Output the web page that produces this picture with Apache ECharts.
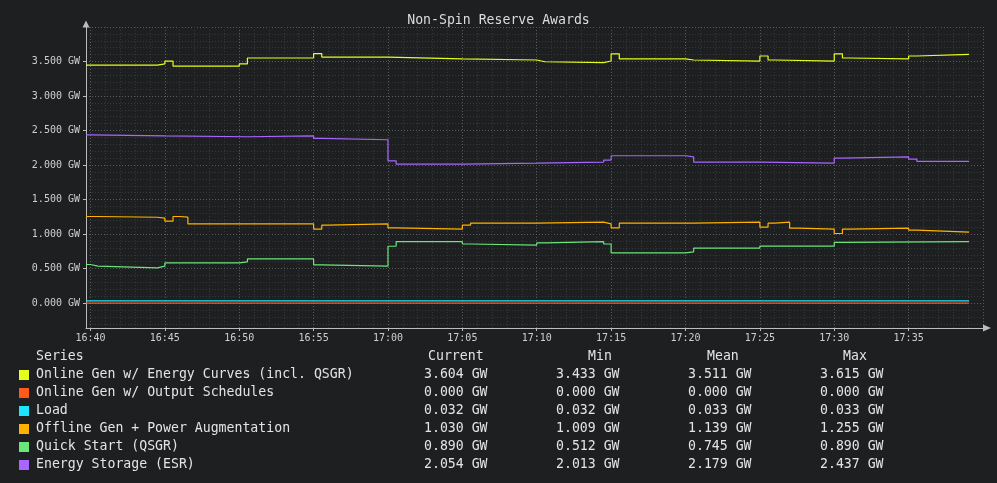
<!DOCTYPE html>
<html>
<head>
<meta charset="utf-8">
<title>Non-Spin Reserve Awards</title>
<script src="https://cdn.jsdelivr.net/npm/echarts@6/dist/echarts.min.js"></script>
<style>
  html, body { margin: 0; padding: 0; background: #1e1f21; }
  #main { width: 997px; height: 483px; }
</style>
</head>
<body>
<div id="main"></div>
<script>
// step change points: [time, GW]; value holds until the next point
var energyCurves = [
    ['16:39:42', 3.447], ['16:44:30', 3.465], ['16:45:00', 3.507], ['16:45:33', 3.433],
    ['16:50:00', 3.465], ['16:50:33', 3.551], ['16:55:00', 3.615], ['16:55:33', 3.565],
    ['17:00:00', 3.537], ['17:05:00', 3.522], ['17:10:00', 3.497], ['17:10:33', 3.483],
    ['17:14:30', 3.507], ['17:15:00', 3.612], ['17:15:33', 3.537], ['17:20:00', 3.522],
    ['17:20:33', 3.507], ['17:25:00', 3.580], ['17:25:33', 3.522], ['17:26:00', 3.507],
    ['17:30:00', 3.612], ['17:30:33', 3.551], ['17:31:00', 3.537], ['17:35:00', 3.580],
    ['17:35:33', 3.604], ['17:39:04', 3.604]
];
var outputSchedules = [
    ['16:39:42', 0.000], ['17:39:04', 0.000]
];
var loadRes = [
    ['16:39:42', 0.033], ['17:20:00', 0.032], ['17:39:04', 0.032]
];
var offlineGen = [
    ['16:39:42', 1.255], ['16:40:30', 1.244], ['16:44:30', 1.232], ['16:45:00', 1.188],
    ['16:45:33', 1.255], ['16:46:00', 1.246], ['16:46:33', 1.149], ['16:55:00', 1.072],
    ['16:55:33', 1.130], ['16:56:00', 1.149], ['17:00:00', 1.090], ['17:00:33', 1.072],
    ['17:05:00', 1.130], ['17:05:33', 1.159], ['17:10:00', 1.174], ['17:14:30', 1.149],
    ['17:15:00', 1.091], ['17:15:33', 1.159], ['17:20:33', 1.174], ['17:25:00', 1.101],
    ['17:25:33', 1.159], ['17:26:00', 1.174], ['17:27:00', 1.087], ['17:27:33', 1.072],
    ['17:30:00', 1.009], ['17:30:33', 1.072], ['17:31:00', 1.087], ['17:35:00', 1.058],
    ['17:35:33', 1.030], ['17:39:04', 1.030]
];
var quickStart = [
    ['16:39:42', 0.560], ['16:40:00', 0.536], ['16:40:30', 0.512], ['16:44:30', 0.536],
    ['16:45:00', 0.582], ['16:50:00', 0.597], ['16:50:33', 0.640], ['16:55:00', 0.553],
    ['16:55:33', 0.536], ['17:00:00', 0.824], ['17:00:33', 0.890], ['17:05:00', 0.857],
    ['17:05:33', 0.841], ['17:10:00', 0.872], ['17:10:33', 0.890], ['17:14:30', 0.857],
    ['17:15:00', 0.729], ['17:20:00', 0.743], ['17:20:33', 0.797], ['17:25:00', 0.826],
    ['17:30:00', 0.880], ['17:30:33', 0.890], ['17:39:04', 0.890]
];
var energyStorage = [
    ['16:39:42', 2.437], ['16:40:00', 2.423], ['16:45:00', 2.410], ['16:50:33', 2.423],
    ['16:55:00', 2.386], ['16:55:33', 2.367], ['17:00:00', 2.062], ['17:00:33', 2.013],
    ['17:05:00', 2.028], ['17:10:00', 2.043], ['17:14:30', 2.072], ['17:15:00', 2.135],
    ['17:20:00', 2.120], ['17:20:33', 2.043], ['17:25:00', 2.029], ['17:30:00', 2.101],
    ['17:30:33', 2.120], ['17:35:00', 2.087], ['17:35:33', 2.054], ['17:39:04', 2.054]
];

var seriesNames = [
    'Online Gen w/ Energy Curves (incl. QSGR)',
    'Online Gen w/ Output Schedules',
    'Load',
    'Offline Gen + Power Augmentation',
    'Quick Start (QSGR)',
    'Energy Storage (ESR)'
];
var seriesColors = ['#e6ff1a', '#ff5a1a', '#1ae6ff', '#ffb300', '#6ae67a', '#a866ff'];
var seriesData = [energyCurves, outputSchedules, loadRes, offlineGen, quickStart, energyStorage];

// legend table stats
var statHeaders = ['Current', 'Min', 'Mean', 'Max'];
var currentVals = [3.604, 0.000, 0.032, 1.030, 0.890, 2.054];
var minVals = [3.433, 0.000, 0.032, 1.009, 0.512, 2.013];
var meanVals = [3.511, 0.000, 0.033, 1.139, 0.745, 2.179];
var maxVals = [3.615, 0.000, 0.033, 1.255, 0.890, 2.437];

var xStart = '16:39:42';
var xEnd = '17:40:00';

function toMin(s) {
    var p = s.split(':').map(Number);
    return p[0] * 60 + p[1] + (p[2] || 0) / 60;
}
function pad(n) { return (n < 10 ? '0' : '') + n; }
function fmtTime(v) {
    var m = Math.round(v);
    return pad(Math.floor(m / 60)) + ':' + pad(m % 60);
}
// hold each value until the next change point (square steps)
function toSteps(d) {
    var out = [];
    d.forEach(function (p, i) {
        var t = toMin(p[0]);
        if (i > 0) out.push([t, d[i - 1][1]]);
        out.push([t, p[1]]);
    });
    return out;
}

var mono = '"DejaVu Sans Mono", monospace';
var gridMajor = { color: '#5a5b5e', width: 1, type: [1, 2] };
var gridMinor = { color: '#36373a', width: 1, type: [1, 2] };

var series = seriesData.map(function (d, i) {
    return {
        name: seriesNames[i],
        type: 'line',
        showSymbol: false,
        symbol: 'none',
        z: 10 - i,
        lineStyle: { color: seriesColors[i], width: 1.2 },
        itemStyle: { color: seriesColors[i] },
        data: toSteps(d)
    };
});

// legend table drawn as graphic elements
var graphics = [];
var rowY0 = 375, rowStep = 18, headY = 357;
var tableFont = '13.2px ' + mono;
var textColor = '#e4e4e4';
var headerX = [428, 588, 707, 843];
var valueX = [424, 556, 688, 820];
var statCols = [currentVals, minVals, meanVals, maxVals];

graphics.push({
    type: 'text', x: 36, y: headY,
    style: { text: 'Series', font: tableFont, fill: textColor, verticalAlign: 'middle' }
});
statHeaders.forEach(function (h, c) {
    graphics.push({
        type: 'text', x: headerX[c], y: headY,
        style: { text: h, font: tableFont, fill: textColor, verticalAlign: 'middle' }
    });
});
seriesNames.forEach(function (name, i) {
    var y = rowY0 + i * rowStep;
    graphics.push({
        type: 'rect', shape: { x: 19, y: y - 5, width: 10, height: 10 },
        style: { fill: seriesColors[i] }
    });
    graphics.push({
        type: 'text', x: 36, y: y,
        style: { text: name, font: tableFont, fill: textColor, verticalAlign: 'middle' }
    });
    statCols.forEach(function (col, c) {
        graphics.push({
            type: 'text', x: valueX[c], y: y,
            style: { text: col[i].toFixed(3) + ' GW', font: tableFont, fill: textColor, verticalAlign: 'middle' }
        });
    });
});

var myChart = echarts.init(document.getElementById('main'), null, { renderer: 'canvas' });
myChart.setOption({
    backgroundColor: '#1e1f21',
    animation: false,
    title: {
        text: 'Non-Spin Reserve Awards',
        left: 'center',
        top: 9,
        textStyle: { color: '#dcdcdc', fontFamily: mono, fontSize: 13.2, fontWeight: 'normal' }
    },
    grid: { left: 86, right: 14, top: 27, bottom: 155 },
    xAxis: {
        type: 'value',
        min: toMin(xStart),
        max: toMin(xEnd),
        splitNumber: 12,
        axisLine: {
            onZero: false,
            lineStyle: { color: '#bdbdbd', width: 1 },
            symbol: ['none', 'triangle'],
            symbolSize: [7, 8],
            symbolOffset: [0, 4]
        },
        axisTick: { show: true, length: 3, lineStyle: { color: '#bdbdbd' } },
        axisLabel: {
            color: '#cfcfcf', fontFamily: mono, fontSize: 10, margin: 5,
            showMinLabel: false, showMaxLabel: false,
            formatter: fmtTime
        },
        splitLine: { show: true, lineStyle: gridMajor },
        minorTick: { show: false, splitNumber: 5 },
        minorSplitLine: { show: true, lineStyle: gridMinor }
    },
    yAxis: {
        type: 'value',
        min: -0.36,
        max: 4.0,
        splitNumber: 9,
        axisLine: {
            show: true,
            onZero: false,
            lineStyle: { color: '#bdbdbd', width: 1 },
            symbol: ['none', 'triangle'],
            symbolSize: [7, 7],
            symbolOffset: [0, 3]
        },
        axisTick: { show: true, length: 3, lineStyle: { color: '#bdbdbd' } },
        axisLabel: {
            color: '#cfcfcf', fontFamily: mono, fontSize: 10, margin: 6,
            showMinLabel: false, showMaxLabel: false,
            formatter: function (v) { return v.toFixed(3) + ' GW'; }
        },
        splitLine: { show: true, lineStyle: gridMajor },
        minorTick: { show: false, splitNumber: 5 },
        minorSplitLine: { show: true, lineStyle: gridMinor }
    },
    graphic: graphics,
    series: series
});
</script>
</body>
</html>
